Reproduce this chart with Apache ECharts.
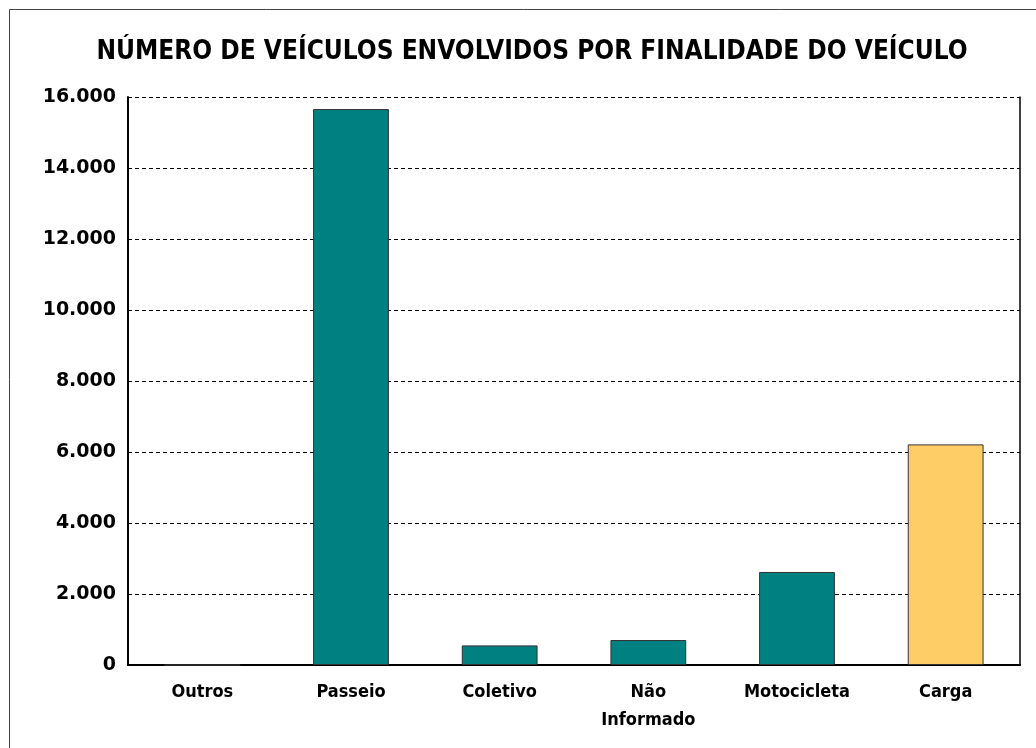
<!DOCTYPE html>
<html>
<head>
<meta charset="utf-8">
<script src="https://cdn.jsdelivr.net/npm/echarts@6/dist/echarts.min.js"></script>
<style>
  html, body { margin: 0; padding: 0; background: #fff; }
  #chart { width: 1036px; height: 748px; }
</style>
</head>
<body>
<div id="chart"></div>
<script>
// categorias e valores
var categorias = ['Outros', 'Passeio', 'Coletivo', 'Não\nInformado', 'Motocicleta', 'Carga'];
var veiculos = [0, 15660, 552, 704, 2620, 6214];
var cores = ['#008080', '#008080', '#008080', '#008080', '#008080', '#FFCD66'];
var yTicks = [0, 2000, 4000, 6000, 8000, 10000, 12000, 14000, 16000];

function milhar(v) {
    // 16000 -> 16.000
    return String(v).replace(/\B(?=(\d{3})+(?!\d))/g, '.');
}

var chart = echarts.init(document.getElementById('chart'), null, {renderer: 'canvas'});

var option = {
    animation: false,
    backgroundColor: '#fff',
    title: {
        text: 'NÚMERO DE VEÍCULOS ENVOLVIDOS POR FINALIDADE DO VEÍCULO',
        left: 527,
        textAlign: 'center',
        top: 34,
        textStyle: {
            fontFamily: 'Liberation Sans Narrow, DejaVu Sans Condensed, sans-serif',
            fontSize: 26,
            fontWeight: 'bold',
            color: '#000'
        }
    },
    graphic: [{
        type: 'rect',
        shape: {x: 9.5, y: 9.5, width: 1040, height: 760},
        style: {fill: 'none', stroke: '#444', lineWidth: 1},
        silent: true
    }],
    grid: {left: 128, right: 16, top: 97, bottom: 83, containLabel: false},
    xAxis: {
        type: 'category',
        data: categorias,
        axisLine: {show: true, lineStyle: {color: '#000', width: 2}},
        axisTick: {show: false},
        axisLabel: {
            margin: 13,
            fontFamily: 'Liberation Sans Narrow, DejaVu Sans Condensed, sans-serif',
            fontSize: 18,
            fontWeight: 'bold',
            lineHeight: 28,
            color: '#000',
            interval: 0
        }
    },
    yAxis: [{
        type: 'value',
        min: yTicks[0],
        max: yTicks[yTicks.length - 1],
        interval: 2000,
        axisLine: {show: true, lineStyle: {color: '#000', width: 2}},
        axisTick: {show: false},
        axisLabel: {
            margin: 12,
            fontFamily: 'DejaVu Sans, sans-serif',
            fontSize: 19,
            fontWeight: 'bold',
            color: '#000',
            formatter: milhar
        },
        splitLine: {show: true, lineStyle: {color: '#000', width: 1, type: [4, 3]}}
    }, {
        type: 'value',
        position: 'right',
        min: 0,
        max: 16000,
        interval: 2000,
        axisLine: {show: true, lineStyle: {color: '#000', width: 1.5}},
        axisTick: {show: false},
        axisLabel: {show: false},
        splitLine: {show: false}
    }],
    series: [{
        name: 'Veículos',
        type: 'bar',
        barWidth: '51%',
        data: veiculos.map(function (v, i) {
            return {value: v, itemStyle: {color: cores[i]}};
        }),
        itemStyle: {borderColor: '#333', borderWidth: 1}
    }]
};

chart.setOption(option);
</script>
</body>
</html>
